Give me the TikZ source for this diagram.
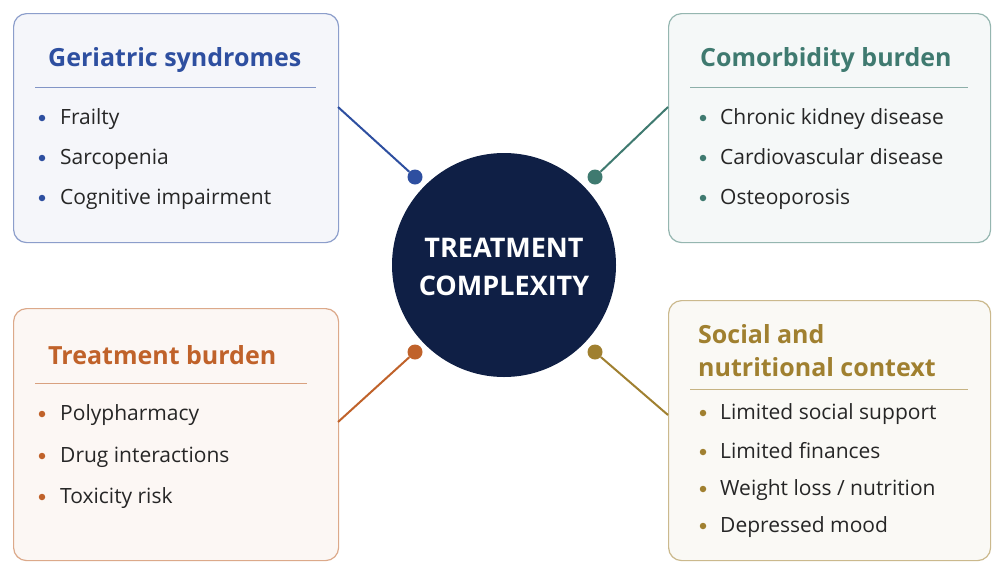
\documentclass[tikz,border=0pt]{standalone}
\usepackage{fontspec}
\setmainfont{Open Sans}
\usetikzlibrary{calc}
\definecolor{navy}{HTML}{0F1F45}
\definecolor{cblue}{HTML}{2E4FA0}
\definecolor{cteal}{HTML}{3F7A70}
\definecolor{corange}{HTML}{C0622A}
\definecolor{cgold}{HTML}{A08030}
\definecolor{txt}{HTML}{262626}
\tikzset{
  panel/.style={draw=#1!55!white, fill=#1!5!white, line width=1.2pt, rounded corners=13pt, inner sep=0pt},
  ttl/.style={text=#1, font=\fontsize{25}{30}\selectfont\bfseries, anchor=west, inner sep=0pt, text height=18pt, text depth=0pt},
  itm/.style={text=txt, font=\fontsize{21}{25}\selectfont, anchor=west, inner sep=0pt, text height=12pt, text depth=0pt},
  bul/.style={circle, fill=#1, inner sep=0pt, minimum size=6.5pt},
  dotn/.style={circle, fill=#1, inner sep=0pt, minimum size=15pt},
  link/.style={draw=#1, line width=2pt},
  rule/.style={draw=#1!60!white, line width=1pt}
}
\begin{document}
\begin{tikzpicture}[x=1pt,y=-1pt]
\useasboundingbox (0,0) rectangle (1006,576);
\fill[white] (0,0) rectangle (1006,576);
% panels
\node[panel=cblue, minimum width=325pt, minimum height=229pt, anchor=north west] (tl) at (13,13) {};
\node[panel=cteal, minimum width=322pt, minimum height=229pt, anchor=north west] (tr) at (668,13) {};
\node[panel=corange, minimum width=325pt, minimum height=252pt, anchor=north west] (bl) at (13,308) {};
\node[panel=cgold, minimum width=322pt, minimum height=260pt, anchor=north west] (br) at (668,300) {};
% center
\node[circle, fill=navy, minimum size=224pt, inner sep=0pt] (c) at (504,265) {};
\node[text=white, font=\fontsize{27}{38}\selectfont\bfseries, align=center] (ct) at (504,267) {TREATMENT\\COMPLEXITY};
% dots
\node[dotn=cblue] (d1) at (415,177) {};
\node[dotn=cteal] (d2) at (595,177) {};
\node[dotn=corange] (d3) at (415,352) {};
\node[dotn=cgold] (d4) at (595,352) {};
% connector ends
\coordinate (e1) at (338,107);
\coordinate (e2) at (668,107);
\coordinate (e3) at (338,422);
\coordinate (e4) at (668,415);
\draw[link=cblue] (e1) -- (d1);
\draw[link=cteal] (e2) -- (d2);
\draw[link=corange] (e3) -- (d3);
\draw[link=cgold] (e4) -- (d4);
% TL
\node[ttl=cblue] (t1) at (48,57) {Geriatric syndromes};
\coordinate (r1a) at (35,87); \coordinate (r1b) at (316,87);
\draw[rule=cblue] (r1a) -- (r1b);
\foreach \y/\t [count=\i] in {118/Frailty,158/Sarcopenia,198/Cognitive impairment}{
  \node[bul=cblue] (b1\i) at (42,\y) {};
  \node[itm] (i1\i) at (60,\y) {\t};
}
% TR
\node[ttl=cteal] (t2) at (700,57) {Comorbidity burden};
\coordinate (r2a) at (690,87); \coordinate (r2b) at (968,87);
\draw[rule=cteal] (r2a) -- (r2b);
\foreach \y/\t [count=\i] in {118/Chronic kidney disease,158/Cardiovascular disease,198/Osteoporosis}{
  \node[bul=cteal] (b2\i) at (703,\y) {};
  \node[itm] (i2\i) at (720,\y) {\t};
}
% BL
\node[ttl=corange] (t3) at (48,355) {Treatment burden};
\coordinate (r3a) at (35,383); \coordinate (r3b) at (307,383);
\draw[rule=corange] (r3a) -- (r3b);
\foreach \y/\t [count=\i] in {414/Polypharmacy,456/Drug interactions,497/Toxicity risk}{
  \node[bul=corange] (b3\i) at (42,\y) {};
  \node[itm] (i3\i) at (60,\y) {\t};
}
% BR
\node[ttl=cgold] (t4a) at (698,334) {Social and};
\node[ttl=cgold] (t4b) at (698,367) {nutritional context};
\coordinate (r4a) at (690,389); \coordinate (r4b) at (968,389);
\draw[rule=cgold] (r4a) -- (r4b);
\foreach \y/\t [count=\i] in {413/{Limited social support},452/{Limited finances},489/{Weight loss / nutrition},526/{Depressed mood}}{
  \node[bul=cgold] (b4\i) at (703,\y) {};
  \node[itm] (i4\i) at (720,\y) {\t};
}
\end{tikzpicture}
\end{document}
